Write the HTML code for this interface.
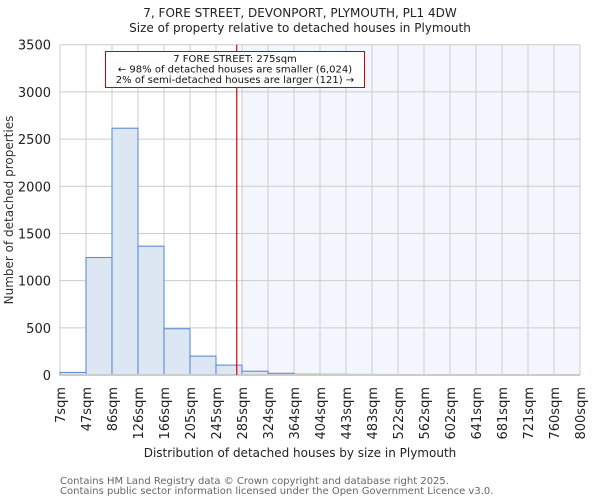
<!DOCTYPE html>
<html><head><meta charset="utf-8"><style>
body{margin:0;background:#fff;font-family:"DejaVu Sans","Liberation Sans",sans-serif;}
</style></head><body>
<svg id="chart" width="600" height="500" xmlns="http://www.w3.org/2000/svg" font-family="DejaVu Sans, Liberation Sans, sans-serif">
<text x="300" y="17" font-size="12" text-anchor="middle" fill="#222">7, FORE STREET, DEVONPORT, PLYMOUTH, PL1 4DW</text>
<text x="300" y="32" font-size="12" text-anchor="middle" fill="#222">Size of property relative to detached houses in Plymouth</text>
<g id="plot"></g>
<text x="300" y="457" font-size="12" text-anchor="middle" fill="#222">Distribution of detached houses by size in Plymouth</text>
<text transform="translate(13,210) rotate(-90)" font-size="12" text-anchor="middle" fill="#333">Number of detached properties</text>
<text x="60" y="484" font-size="10" fill="#666">Contains HM Land Registry data © Crown copyright and database right 2025.</text>
<text x="60" y="494" font-size="10" fill="#666">Contains public sector information licensed under the Open Government Licence v3.0.</text>
</svg>
<script>
const xLabels=["7sqm","47sqm","86sqm","126sqm","166sqm","205sqm","245sqm","285sqm","324sqm","364sqm","404sqm","443sqm","483sqm","522sqm","562sqm","602sqm","641sqm","681sqm","721sqm","760sqm","800sqm"];
const counts=[27,1245,2615,1365,490,200,105,40,18,8,7,6,5,0,0,0,0,0,0,0];
const yTicks=[0,500,1000,1500,2000,2500,3000,3500];
const propertySize=275;
const highlightStartBin=7;
const NS="http://www.w3.org/2000/svg";
const L=60,R=580,T=44.7,B=375,yMax=3500;
const nb=counts.length, bw=(R-L)/nb;
const xs=i=>L+i*bw;
const ys=v=>B-(v/yMax)*(B-T);
const xVal=v=>{const a=7,b=800;return L+(v-a)/(b-a)*(R-L);};
const g=document.getElementById('plot');
function mk(t,attrs){const e=document.createElementNS(NS,t);for(const k in attrs)e.setAttribute(k,attrs[k]);g.appendChild(e);return e;}
let e;
e=mk('rect',{x:xs(highlightStartBin),y:T,width:R-xs(highlightStartBin),height:B-T,fill:'#f3f6fd'});


for(let i=0;i<=nb;i++){e=mk('line',{x1:xs(i),x2:xs(i),y1:T,y2:B,stroke:'#ccc','stroke-width':1});

}
yTicks.forEach(v=>{e=mk('line',{x1:L,x2:R,y1:ys(v),y2:ys(v),stroke:'#ccc','stroke-width':1});


e=mk('text',{x:L-9,y:ys(v)+5,'font-size':13,'text-anchor':'end',fill:'#222'});e.textContent=v;

});
counts.forEach((c,i)=>{if(c<=0)return;e=mk('rect',{x:xs(i),y:ys(c),width:bw,height:B-ys(c),fill:'#dde6f3',stroke:'#5b8fd6','stroke-width':1.1});

});
e=mk('line',{x1:L,x2:R,y1:B,y2:B,stroke:'#ccc','stroke-width':2});


xLabels.forEach((s,i)=>{e=mk('text',{transform:`translate(${xs(i)+5},387) rotate(-90)`,'font-size':13,'text-anchor':'end',fill:'#222'});e.textContent=s;

});
const px=xVal(propertySize)+1;
e=mk('line',{x1:px,x2:px,y1:T,y2:B,stroke:'#d00','stroke-width':1.2});


e=mk('rect',{x:105.5,y:51.5,width:259,height:36,fill:'#fff',stroke:'#c00','stroke-width':1});


["7 FORE STREET: 275sqm","← 98% of detached houses are smaller (6,024)","2% of semi-detached houses are larger (121) →"].forEach((s,i)=>{
e=mk('text',{x:235,y:62+i*10.5,'font-size':10,'text-anchor':'middle',fill:'#111'});e.textContent=s;

});
</script>
</body></html>
